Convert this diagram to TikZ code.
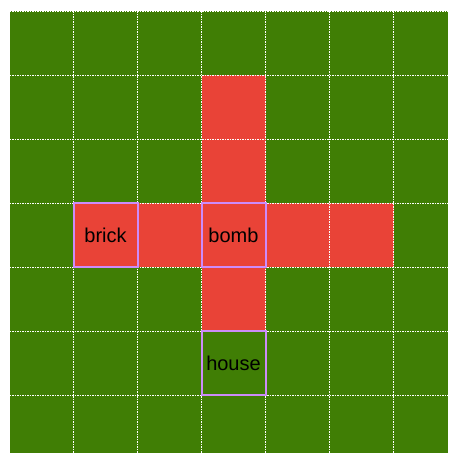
\documentclass[tikz,border=0pt]{standalone}
\usepackage{fontspec}
\setmainfont{Liberation Sans}
\usetikzlibrary{positioning}
\definecolor{grass}{RGB}{64,126,5}
\definecolor{blast}{RGB}{233,67,55}
\definecolor{frame}{RGB}{204,140,250}

\begin{document}
\begin{tikzpicture}[
    x=1pt, y=-1pt,
    cell/.style={draw=frame, line width=2pt, minimum size=64pt,
                 inner sep=0pt, outer sep=0pt,
                 font=\fontsize{20}{24}\selectfont},
    gridline/.style={white, line width=0.7pt, dash pattern=on 1.5pt off 1pt},
]
    \useasboundingbox (0,0) rectangle (448,453);

    % Field
    \fill[grass] (9.5,11) rectangle (448,453);

    % Blast area
    \fill[blast] (201.5,75) rectangle (265.5,331);
    \fill[blast] (73.5,203) rectangle (393.5,267);

    % Grid
    \foreach \i in {0,...,6} {
        \draw[gridline] (9.5+64*\i,11) -- (9.5+64*\i,453);
        \draw[gridline] (9.5,11+64*\i) -- (448,11+64*\i);
    }

    % Objects
    \node[cell] (bomb) at (233.5,235) {bomb};
    \node[cell, left=64pt of bomb] (brick) {brick};
    \node[cell, below=64pt of bomb] (house) {house};
\end{tikzpicture}
\end{document}
